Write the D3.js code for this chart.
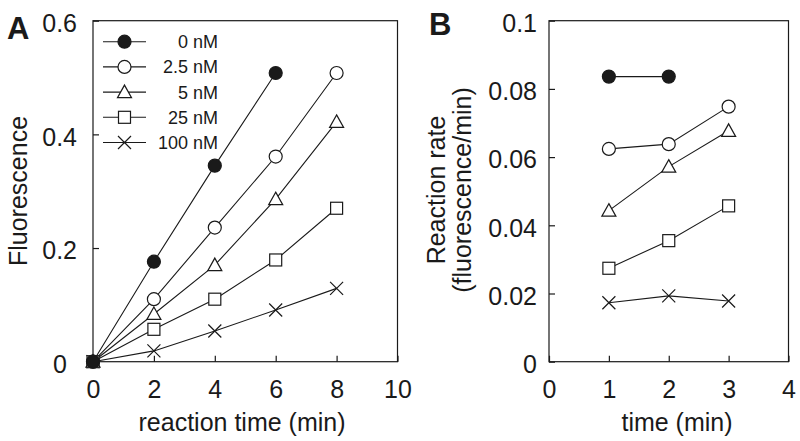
<!DOCTYPE html>
<html><head><meta charset="utf-8">
<script src="https://cdn.jsdelivr.net/npm/d3@7"></script>
<style>body{margin:0;background:#fff}svg{display:block}</style>
</head><body>
<svg id="c" width="800" height="441"></svg>
<script>
// ---- data ----
const seriesNames = ["0 nM", "2.5 nM", "5 nM", "25 nM", "100 nM"];
const seriesSymbols = ["filledCircle", "circle", "triangle", "square", "cross"];
const timeA = [0, 2, 4, 6, 8];
const fluor0 = [0, 0.176, 0.345, 0.508];
const fluor2_5 = [0, 0.110, 0.236, 0.361, 0.508];
const fluor5 = [0, 0.084, 0.170, 0.286, 0.422];
const fluor25 = [0, 0.057, 0.110, 0.179, 0.270];
const fluor100 = [0, 0.019, 0.054, 0.091, 0.129];
const timeB = [1, 2, 3];
const rate0 = [0.0836, 0.0836];
const rate2_5 = [0.0624, 0.0638, 0.0748];
const rate5 = [0.0443, 0.0572, 0.0677];
const rate25 = [0.0274, 0.0355, 0.0457];
const rate100 = [0.0173, 0.0193, 0.0178];
const xTicksA = [0, 2, 4, 6, 8, 10];
const yTicksA = [0, 0.2, 0.4, 0.6];
const xTicksB = [0, 1, 2, 3, 4];
const yTicksB = [0, 0.02, 0.04, 0.06, 0.08, 0.1];

const fluorA = [fluor0, fluor2_5, fluor5, fluor25, fluor100];
const ratesB = [rate0, rate2_5, rate5, rate25, rate100];

const ink = "#1a1a1a";
const font = "'Liberation Sans', Arial, sans-serif";
const svg = d3.select("#c");

function marker(g, type, x, y) {
  const s = 6.5;
  if (type === "filledCircle" || type === "circle") {
    g.append("circle").attr("cx", x).attr("cy", y).attr("r", s)
      .attr("fill", type === "filledCircle" ? ink : "#fff").attr("stroke", ink).attr("stroke-width", 1.2);
  } else if (type === "triangle") {
    g.append("path").attr("d", `M${x},${y - s - 0.5}L${x + s + 0.5},${y + s - 1}L${x - s - 0.5},${y + s - 1}Z`)
      .attr("fill", "#fff").attr("stroke", ink).attr("stroke-width", 1.2);
  } else if (type === "square") {
    g.append("rect").attr("x", x - s + 0.5).attr("y", y - s + 0.5).attr("width", 2 * s - 1).attr("height", 2 * s - 1)
      .attr("fill", "#fff").attr("stroke", ink).attr("stroke-width", 1.2);
  } else if (type === "cross") {
    g.append("path").attr("d", `M${x - s},${y - s}L${x + s},${y + s}M${x - s},${y + s}L${x + s},${y - s}`)
      .attr("fill", "none").attr("stroke", ink).attr("stroke-width", 1.2);
  }
}

function panel(opts) {
  const { x, y, xt, yt, fmtY, padY } = opts;
  const g = svg.append("g");
  const [x0, x1] = x.range(), [y0, y1] = y.range();
  g.append("rect").attr("x", x0).attr("y", y1).attr("width", x1 - x0).attr("height", y0 - y1)
    .attr("fill", "none").attr("stroke", ink).attr("stroke-width", 1.2);
  const ax = g.append("g").attr("transform", `translate(0,${y0})`)
    .call(d3.axisBottom(x).tickValues(xt).tickFormat(d3.format("d")).tickSizeInner(-6).tickSizeOuter(0).tickPadding(19));
  const ay = g.append("g").attr("transform", `translate(${x0},0)`)
    .call(d3.axisLeft(y).tickValues(yt).tickFormat(fmtY).tickSizeInner(-6).tickSizeOuter(0).tickPadding(padY));
  [ax, ay].forEach(a => {
    a.attr("font-size", 25).attr("font-family", font);
    a.select(".domain").remove();
    a.selectAll("line").attr("stroke", ink).attr("stroke-width", 1.2);
    a.selectAll("text").attr("fill", ink).style("font-family", font).style("font-size", "25px");
  });
  ay.selectAll("text").attr("dy", "0.43em");
  return { g, ay };
}

// ---- Panel A ----
const xA = d3.scaleLinear().domain([0, 10]).range([93, 397.5]);
const yA = d3.scaleLinear().domain([0, 0.6]).range([361.7, 20.7]);
const pA = panel({ x: xA, y: yA, xt: xTicksA, yt: yTicksA, fmtY: d => d === 0 ? "0" : d3.format(".1f")(d), padY: 16 });
pA.ay.selectAll(".tick").filter(d => d === 0).select("text").attr("x", -26);

const lineA = d3.line().x((d, i) => xA(timeA[i])).y(d => yA(d));
fluorA.forEach(vals => {
  pA.g.append("path").attr("d", lineA(vals)).attr("fill", "none").attr("stroke", ink).attr("stroke-width", 1.1);
});
for (let si = fluorA.length - 1; si >= 0; si--) {
  fluorA[si].forEach((v, i) => marker(pA.g, seriesSymbols[si], xA(timeA[i]), yA(v)));
}

// legend
const leg = svg.append("g");
seriesNames.forEach((name, i) => {
  const ly = 41.7 + i * 25.2;
  leg.append("line").attr("x1", 103).attr("x2", 146).attr("y1", ly).attr("y2", ly).attr("stroke", ink).attr("stroke-width", 1.1);
  marker(leg, seriesSymbols[i], 124.5, ly);
  leg.append("text").attr("x", 218).attr("y", ly + 6.5).attr("text-anchor", "end")
    .style("font-family", font).style("font-size", "18px").attr("fill", ink).text(name);
});

// ---- Panel B ----
const xB = d3.scaleLinear().domain([0, 4]).range([549, 788.5]);
const yB = d3.scaleLinear().domain([0, 0.1]).range([361.7, 20.7]);
const pB = panel({ x: xB, y: yB, xt: xTicksB, yt: yTicksB, fmtY: d => d === 0 ? "0" : (d === 0.1 ? "0.1" : d3.format(".2f")(d)), padY: 12 });
const lineB = d3.line().x((d, i) => xB(timeB[i])).y(d => yB(d));
ratesB.forEach(vals => {
  pB.g.append("path").attr("d", lineB(vals)).attr("fill", "none").attr("stroke", ink).attr("stroke-width", 1.1);
});
ratesB.forEach((vals, si) => vals.forEach((v, i) => marker(pB.g, seriesSymbols[si], xB(timeB[i]), yB(v))));

// ---- titles ----
const txt = (x, y, s, size, opts = {}) => {
  const t = svg.append("text").attr("x", x).attr("y", y).attr("fill", ink)
    .style("font-family", font).style("font-size", size + "px").attr("text-anchor", opts.anchor || "middle")
    .attr("font-weight", opts.bold ? "bold" : "normal").text(s);
  if (opts.rot) t.attr("transform", `rotate(-90,${x},${y})`);
  return t;
};
txt(7, 39, "A", 31, { anchor: "start", bold: true });
txt(429, 35, "B", 31, { anchor: "start", bold: true });
txt(242, 431, "reaction time (min)", 25);
txt(677, 431, "time (min)", 25);
txt(27, 191, "Fluorescence", 25, { rot: true });
txt(445, 190, "Reaction rate", 25, { rot: true });
txt(471, 190, "(fluorescence/min)", 25, { rot: true });
</script>
</body></html>
